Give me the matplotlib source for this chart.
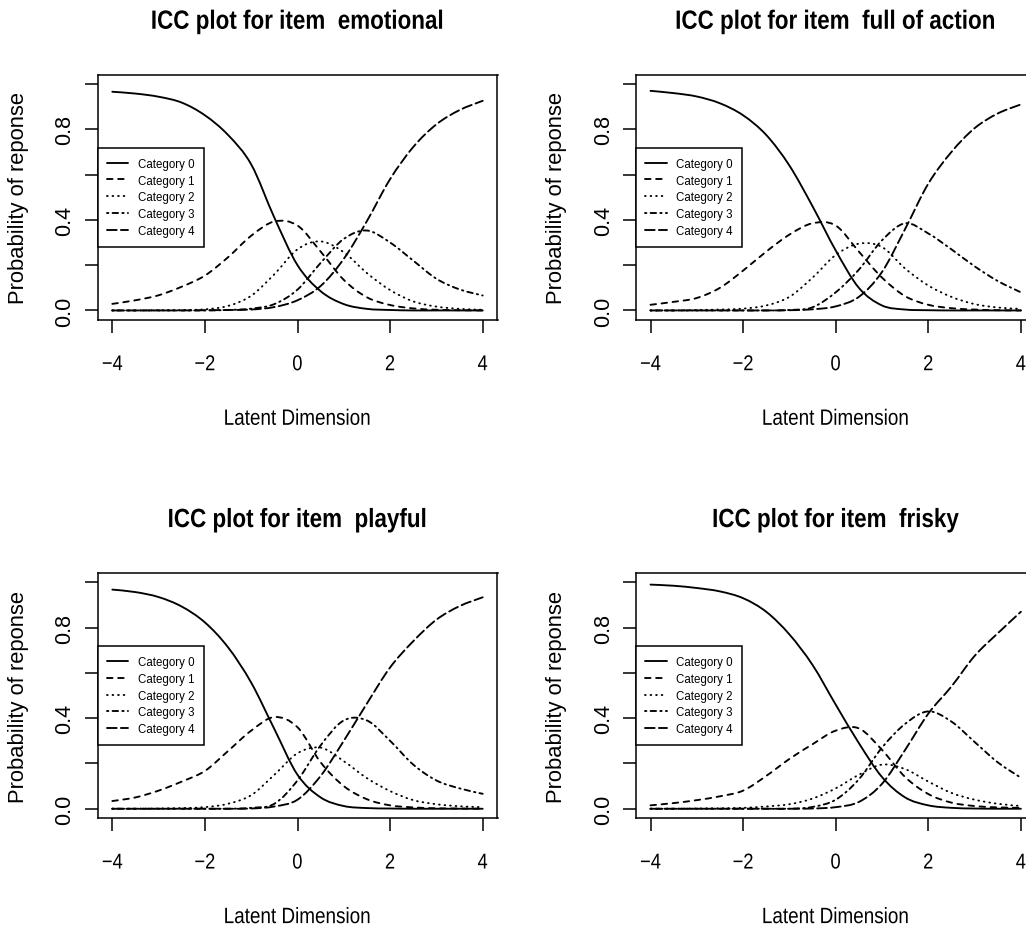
import matplotlib
matplotlib.use("Agg")
import numpy as np
import matplotlib.pyplot as plt
from matplotlib.font_manager import FontProperties
from matplotlib.lines import Line2D
from matplotlib.path import Path
from matplotlib.patches import PathPatch
from matplotlib.patheffects import AbstractPathEffect

# ---------------- data ----------------
theta = [-4, -3.5, -3, -2.5, -2, -1.5, -1, -0.5, 0, 0.5, 1, 1.5, 2, 2.5, 3, 3.5, 4]

items = ["emotional", "full of action", "playful", "frisky"]
categories = ["Category 0", "Category 1", "Category 2", "Category 3", "Category 4"]

emotional = [
    [0.966, 0.958, 0.944, 0.918, 0.862, 0.775, 0.645, 0.410, 0.200, 0.085, 0.028, 0.007, 0.002, 0.000, 0.000, 0.000, 0.000],
    [0.029, 0.045, 0.067, 0.105, 0.154, 0.235, 0.330, 0.393, 0.375, 0.260, 0.135, 0.058, 0.024, 0.009, 0.003, 0.001, 0.000],
    [0.000, 0.000, 0.001, 0.002, 0.005, 0.020, 0.065, 0.160, 0.270, 0.305, 0.257, 0.165, 0.090, 0.040, 0.017, 0.007, 0.003],
    [0.000, 0.000, 0.000, 0.000, 0.000, 0.002, 0.008, 0.028, 0.092, 0.210, 0.316, 0.353, 0.300, 0.220, 0.140, 0.093, 0.066],
    [0.000, 0.000, 0.000, 0.000, 0.001, 0.002, 0.004, 0.015, 0.045, 0.108, 0.228, 0.395, 0.580, 0.722, 0.822, 0.885, 0.926],
]
full_of_action = [
    [0.970, 0.960, 0.945, 0.915, 0.862, 0.775, 0.640, 0.460, 0.265, 0.100, 0.022, 0.004, 0.001, 0.000, 0.000, 0.000, 0.000],
    [0.025, 0.038, 0.055, 0.100, 0.176, 0.260, 0.335, 0.385, 0.375, 0.260, 0.145, 0.063, 0.025, 0.010, 0.004, 0.001, 0.000],
    [0.000, 0.000, 0.002, 0.004, 0.008, 0.022, 0.060, 0.145, 0.245, 0.295, 0.280, 0.185, 0.110, 0.060, 0.028, 0.013, 0.007],
    [0.000, 0.000, 0.000, 0.000, 0.000, 0.000, 0.002, 0.014, 0.080, 0.180, 0.310, 0.385, 0.340, 0.270, 0.195, 0.130, 0.080],
    [0.000, 0.000, 0.000, 0.000, 0.000, 0.000, 0.001, 0.005, 0.018, 0.060, 0.170, 0.360, 0.560, 0.700, 0.805, 0.870, 0.910],
]
playful = [
    [0.968, 0.957, 0.935, 0.893, 0.823, 0.713, 0.557, 0.352, 0.150, 0.050, 0.012, 0.003, 0.001, 0.000, 0.000, 0.000, 0.000],
    [0.034, 0.050, 0.080, 0.120, 0.167, 0.255, 0.345, 0.405, 0.360, 0.205, 0.100, 0.042, 0.015, 0.006, 0.002, 0.001, 0.000],
    [0.000, 0.000, 0.001, 0.003, 0.007, 0.022, 0.060, 0.150, 0.245, 0.270, 0.210, 0.135, 0.078, 0.038, 0.020, 0.011, 0.007],
    [0.000, 0.000, 0.000, 0.000, 0.000, 0.000, 0.004, 0.022, 0.125, 0.280, 0.390, 0.390, 0.300, 0.195, 0.125, 0.090, 0.066],
    [0.000, 0.000, 0.000, 0.000, 0.000, 0.000, 0.001, 0.010, 0.040, 0.145, 0.300, 0.465, 0.624, 0.740, 0.835, 0.895, 0.934],
]
frisky = [
    [0.990, 0.985, 0.975, 0.960, 0.930, 0.870, 0.770, 0.635, 0.460, 0.290, 0.140, 0.050, 0.015, 0.004, 0.001, 0.000, 0.000],
    [0.015, 0.025, 0.038, 0.055, 0.080, 0.145, 0.220, 0.285, 0.345, 0.355, 0.260, 0.140, 0.065, 0.027, 0.012, 0.006, 0.004],
    [0.000, 0.000, 0.001, 0.002, 0.004, 0.010, 0.020, 0.045, 0.090, 0.150, 0.195, 0.175, 0.120, 0.070, 0.040, 0.022, 0.012],
    [0.000, 0.000, 0.000, 0.000, 0.000, 0.000, 0.000, 0.008, 0.040, 0.130, 0.270, 0.375, 0.430, 0.385, 0.295, 0.205, 0.137],
    [0.000, 0.000, 0.000, 0.000, 0.000, 0.000, 0.000, 0.001, 0.007, 0.030, 0.110, 0.260, 0.420, 0.540, 0.675, 0.775, 0.870],
]
item_curves = [emotional, full_of_action, playful, frisky]

xtick_values = [-4, -2, 0, 2, 4]
ytick_values = [0.0, 0.2, 0.4, 0.6, 0.8, 1.0]
ytick_labels = ["0.0", "", "0.4", "", "0.8", ""]

title_prefix = "ICC plot for item  "
x_label = "Latent Dimension"
y_label = "Probability of reponse"


# ---------------- helpers ----------------
class HSqueeze(AbstractPathEffect):
    """Draw horizontal text narrower (about its own centre)."""

    def __init__(self, factor):
        super().__init__()
        self.factor = factor

    def draw_path(self, renderer, gc, tpath, affine, rgbFace=None):
        v = np.array(tpath.vertices, dtype=float, copy=True)
        if len(v):
            cx = 0.5 * (v[:, 0].min() + v[:, 0].max())
            v[:, 0] = cx + (v[:, 0] - cx) * self.factor
        renderer.draw_path(gc, Path(v, tpath.codes), affine, rgbFace)


def smooth_path(xs, ys):
    """Cubic Bezier path passing through the given data points."""
    p = np.column_stack([xs, ys]).astype(float)
    n = len(p)
    ext = np.vstack([p[0], p, p[-1]])
    verts = [p[0]]
    codes = [Path.MOVETO]
    for i in range(n - 1):
        p0, p1, p2, p3 = ext[i], ext[i + 1], ext[i + 2], ext[i + 3]
        c1 = p1 + (p2 - p0) / 6.0
        c2 = p2 - (p3 - p1) / 6.0
        verts += [c1, c2, p2]
        codes += [Path.CURVE4] * 3
    return Path(np.array(verts), codes)


# ---------------- styling ----------------
FONT = ["Liberation Sans", "DejaVu Sans"]
plt.rcParams["lines.scale_dashes"] = False
plt.rcParams["axes.unicode_minus"] = True
SQ = [HSqueeze(0.85)]

LW = 1.35
line_styles = ["-", (0, (4, 4)), (0, (0.5, 3.5)), (0, (1, 3, 4, 3)), (0, (7, 3))]

W, H = 1026, 928
fig = plt.figure(figsize=(W / 100, H / 100), dpi=100)
fig.patch.set_facecolor("white")

ax_w = 400.0
ax_h = 244.5
lefts = [97.5, 635.7]
tops = [76.0, 574.3]

for idx, (name, curves) in enumerate(zip(items, item_curves)):
    r, c = divmod(idx, 2)
    l = lefts[c]
    t = tops[r]
    ax = fig.add_axes([l / W, 1 - (t + ax_h) / H, ax_w / W, ax_h / H])
    handles = []
    for k, (vals, ls) in enumerate(zip(curves, line_styles)):
        patch = PathPatch(smooth_path(theta, vals), fill=False, edgecolor="black",
                          lw=LW, linestyle=ls, capstyle="round", joinstyle="round")
        ax.add_patch(patch)
        handles.append(Line2D([], [], color="black", lw=LW, linestyle=ls,
                              dash_capstyle="round", solid_capstyle="round"))
    ax.set_xlim(-4.32, 4.32)
    ax.set_ylim(-0.04, 1.04)
    ax.set_xticks(xtick_values)
    ax.set_yticks(ytick_values, labels=ytick_labels)
    for sp in ax.spines.values():
        sp.set_linewidth(1.1)
        sp.set_color("black")
    ax.tick_params(axis="both", direction="out", length=9.5, width=1.1, colors="black")
    ax.tick_params(axis="x", pad=15.5, labelsize=15.5, labelfontfamily=FONT)
    ax.tick_params(axis="y", pad=6.3, labelsize=15.5, labelfontfamily=FONT,
                   labelrotation=90)
    for lab in ax.get_yticklabels():
        lab.set_verticalalignment("center")
    for lab in ax.get_xticklabels():
        lab.set_path_effects(SQ)

    ttl = ax.set_title(title_prefix + name, fontfamily=FONT, fontweight="bold",
                       fontsize=19, pad=33.3)
    ttl.set_path_effects(SQ)
    xl = ax.set_xlabel(x_label, fontfamily=FONT, fontsize=16)
    xl.set_path_effects(SQ)
    ax.xaxis.set_label_coords(0.5, -(410 - 320.7) / ax_h)
    ax.set_ylabel(y_label, fontfamily=FONT, fontsize=15.8)
    ax.yaxis.set_label_coords((29 - 97.5) / ax_w, 0.5)

    leg = ax.legend(handles, categories, loc="center left", bbox_to_anchor=(0, 0.5),
                    borderaxespad=0, frameon=True, fancybox=False, framealpha=1,
                    edgecolor="black", prop=FontProperties(family=FONT, size=8.3),
                    handlelength=1.83, handletextpad=0.8, borderpad=0.85,
                    labelspacing=0.41)
    leg.get_frame().set_linewidth(1.1)

fig.savefig("out.png", dpi=100, facecolor="white")
